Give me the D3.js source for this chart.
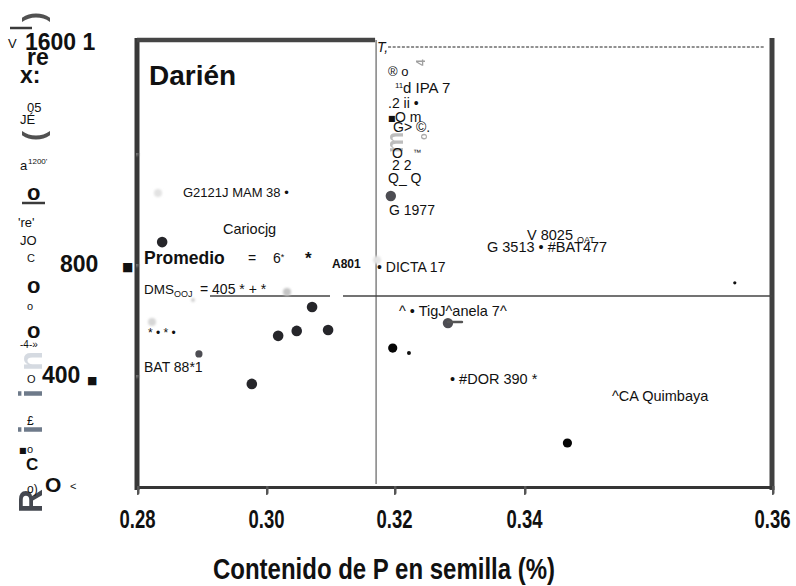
<!DOCTYPE html>
<html>
<head>
<meta charset="utf-8">
<script src="https://cdn.jsdelivr.net/npm/d3@7"></script>
<style>
  body { margin: 0; background: #fff; }
  svg { display: block; }
  text { font-family: "Liberation Sans", Arial, sans-serif; fill: #111; }
</style>
</head>
<body>
<svg id="chart" width="796" height="586"></svg>
<script>
// Seed phosphorus content (%) against grain yield, Darién site
const xTicks = [0.28, 0.30, 0.32, 0.34, 0.36];
const xTickLabels = ["0.28", "0.30", "0.32", "0.34", "0.36"];
const yTicks = [400, 800, 1200];
const meanP = 0.3172;      // mean seed P (vertical reference)
const meanYield = 685;     // mean yield (horizontal reference)

// genotypes: p = seed P (%), y = yield
const solidDots = [{ p: 0.3198, y: 497 }, { p: 0.3435, y: 155 }];
const darkDots = [
  { p: 0.2839, y: 879 }, { p: 0.3072, y: 645 }, { p: 0.3019, y: 541 },
  { p: 0.3048, y: 559 }, { p: 0.3097, y: 562 }, { p: 0.2978, y: 368 }
];
const greyDots = [{ p: 0.2896, y: 476 }, { p: 0.3195, y: 1045 }, { p: 0.3283, y: 587 }];
const smallDots = [{ p: 0.3223, y: 479 }, { p: 0.3570, y: 732 }];

const W = 796, H = 586;
const svg = d3.select("#chart");

// blur filters in user space so thin horizontal/vertical strokes keep their region
const defs = svg.append("defs");
[["soft", 0.6], ["haze", 1.2]].forEach(([id, sd]) => {
  defs.append("filter").attr("id", id)
    .attr("filterUnits", "userSpaceOnUse")
    .attr("x", 0).attr("y", 0).attr("width", W).attr("height", H)
    .append("feGaussianBlur").attr("stdDeviation", sd);
});

const x = d3.scaleLinear().domain(xTicks).range([137, 266, 394, 524, 772]);
const y = d3.scaleLinear().domain([0, 1600]).range([486, 42]);

const x0 = x(0.28), x1 = x(0.36), yB = y(0), yT = y(1600);

// ---- frame ----
const frame = svg.append("g").attr("filter", "url(#soft)");
frame.append("line").attr("x1", x0).attr("x2", x0).attr("y1", yT - 4).attr("y2", yB + 4)
  .attr("stroke", "#383838").attr("stroke-width", 5);
frame.append("line").attr("x1", x1).attr("x2", x1).attr("y1", yT - 4).attr("y2", yB + 4)
  .attr("stroke", "#404040").attr("stroke-width", 5);
frame.append("line").attr("x1", x0).attr("x2", x(meanP) - 1).attr("y1", yT - 2).attr("y2", yT - 2)
  .attr("stroke", "#454545").attr("stroke-width", 4.5);

// bottom axis
const xAxis = d3.axisBottom(x).tickValues(xTicks)
  .tickFormat((d, i) => xTickLabels[i]).tickSize(7).tickSizeOuter(0);
const gx = svg.append("g").attr("transform", `translate(0,${yB})`).call(xAxis);
gx.select(".domain").attr("stroke", "#363636").attr("stroke-width", 6)
  .attr("d", `M${x0 - 2},0H${x1 + 2}`).attr("filter", "url(#soft)");
gx.selectAll(".tick line").attr("stroke", "#555").attr("stroke-width", 4)
  .attr("stroke-linecap", "round").attr("filter", "url(#soft)");
gx.selectAll(".tick text")
  .attr("y", 42).attr("dy", 0)
  .attr("font-size", 25).attr("font-weight", 700).attr("fill", "#111")
  .attr("textLength", 36).attr("lengthAdjust", "spacingAndGlyphs")
  .style("font-family", "'Liberation Sans', Arial, sans-serif");

// left axis tick stubs
const yAxis = d3.axisLeft(y).tickValues(yTicks).tickSize(4).tickFormat("").tickSizeOuter(0);
const gy = svg.append("g").attr("transform", `translate(${x0 - 1},0)`).call(yAxis);
gy.select(".domain").remove();
gy.selectAll(".tick line").attr("stroke", "#777").attr("stroke-width", 5)
  .attr("stroke-linecap", "round").attr("filter", "url(#haze)");

// ---- reference lines ----
svg.append("line").attr("x1", x(meanP)).attr("x2", x(meanP)).attr("y1", yT - 2).attr("y2", yB - 2)
  .attr("stroke", "#555").attr("stroke-width", 1.1);
svg.append("line").attr("x1", x(meanP) + 12).attr("x2", x1 - 7)
  .attr("y1", yT + 5).attr("y2", yT + 5)
  .attr("stroke", "#222").attr("stroke-width", 1).attr("stroke-dasharray", "3,1.6");
const hy = y(meanYield);
[[210, 330], [343, x1]].forEach(([a, b]) => {
  svg.append("line").attr("x1", a).attr("x2", b).attr("y1", hy).attr("y2", hy)
    .attr("stroke", "#444").attr("stroke-width", 1.5);
});

// faint smudges of the print
const smudges = [[152, 322, 4, "#d6d6d6"], [158, 193, 4, "#e2e2e2"], [287, 292, 4, "#c4c4c4"],
  [193, 300, 2, "#cfcfcf"], [377, 260, 4, "#e4e4e4"]];
svg.append("g").attr("filter", "url(#haze)").selectAll("circle").data(smudges).join("circle")
  .attr("cx", d => d[0]).attr("cy", d => d[1]).attr("r", d => d[2]).attr("fill", d => d[3]);

// ---- points ----
const pts = svg.append("g").attr("filter", "url(#soft)");
pts.selectAll(".dark").data(darkDots).join("circle").attr("class", "dark")
  .attr("cx", d => x(d.p)).attr("cy", d => y(d.y)).attr("r", 5.3).attr("fill", "#26262c");
pts.selectAll(".grey").data(greyDots).join("circle").attr("class", "grey")
  .attr("cx", d => x(d.p)).attr("cy", d => y(d.y)).attr("r", (d, i) => i === 0 ? 3.6 : 5.2)
  .attr("fill", "#4e4e52");
pts.append("line").attr("x1", x(greyDots[2].p)).attr("x2", x(greyDots[2].p) + 14)
  .attr("y1", y(greyDots[2].y) - 1).attr("y2", y(greyDots[2].y) - 1)
  .attr("stroke", "#555").attr("stroke-width", 2.5).attr("stroke-linecap", "round");
svg.selectAll(".solid").data(solidDots).join("circle").attr("class", "solid")
  .attr("cx", d => x(d.p)).attr("cy", d => y(d.y)).attr("r", 4.6).attr("fill", "#050505");
svg.selectAll(".small").data(smallDots).join("circle").attr("class", "small")
  .attr("cx", d => x(d.p)).attr("cy", d => y(d.y)).attr("r", (d, i) => i === 0 ? 2 : 1.6)
  .attr("fill", "#111");

// ---- vertical title remnants (rotated) ----
const rot = [
  ["R", 42, 513, 33, "#3a3e46", 0.95],
  ["i", 42, 434, 33, "#4b5a6e", 0.8],
  ["i", 42, 398, 33, "#4b5a6e", 0.8],
  ["n", 42, 371, 33, "#8a98aa", 0.35],
  ["(", 44, 141, 30, "#333", 0.85],
  [")", 44, 22, 30, "#333", 0.85],
  ["4", 425, 66, 12, "#777", 0.7],
  ["m", 403, 153, 24, "#888", 0.55],
  ["o", 427, 140, 11, "#888", 0.7]
];
svg.append("g").selectAll("text").data(rot).join("text")
  .attr("transform", d => `translate(${d[1]},${d[2]}) rotate(-90)`)
  .attr("font-size", d => d[3]).attr("font-weight", 700)
  .style("fill", d => d[4]).attr("opacity", d => d[5])
  .text(d => d[0]);
svg.append("g").attr("filter", "url(#soft)").selectAll("line")
  .data([[10, 32, 28], [22, 45, 203]]).join("line")
  .attr("x1", d => d[0]).attr("x2", d => d[1]).attr("y1", d => d[2]).attr("y2", d => d[2])
  .attr("stroke", "#3a3a3a").attr("stroke-width", 2.5);

// ---- side labels along the yield axis ----
const side = [
  ["V", 8, 48, 13, 400], ["1600 1", 25, 50, 23, 700], ["re", 27, 65, 23, 700],
  ["x:", 20, 83, 23, 700], ["05", 27, 112, 13, 400], ["JÉ", 20, 124, 13, 400],
  ["a", 20, 170, 13, 400], ["1200'", 28, 164, 8, 400], ["o", 27, 200, 22, 700],
  ["'re'", 18, 227, 13, 400], ["JO", 20, 245, 13, 400], ["C", 27, 262, 11, 400],
  ["800", 60, 272, 23, 700], ["o", 27, 293, 22, 700], ["o", 27, 310, 11, 400],
  ["o", 27, 338, 22, 700], ["-4-»", 20, 348, 10, 400], ["O", 27, 383, 11, 400],
  ["400", 42, 383, 23, 700], ["£", 27, 425, 12, 400], ["o", 27, 453, 11, 400],
  ["C", 26, 470, 17, 700], ["o)", 27, 493, 12, 400], ["O", 45, 492, 21, 700],
  ["<", 70, 490, 11, 400]
];
svg.append("g").selectAll("text").data(side).join("text")
  .attr("x", d => d[1]).attr("y", d => d[2]).attr("font-size", d => d[3])
  .attr("font-weight", d => d[4]).text(d => d[0]);

const squares = [[122, 271, 12], [87, 384, 11], [19, 453, 8], [388, 121, 8]];
svg.append("g").selectAll("text").data(squares).join("text")
  .attr("x", d => d[0]).attr("y", d => d[1]).attr("font-size", d => d[2])
  .style("font-family", "'DejaVu Sans', sans-serif").text("■");

// ---- genotype labels and notes inside the plot ----
const notes = [
  ["Darién", 149, 85, 28, 700],
  ["G2121J MAM 38 •", 183, 197, 13, 400],
  ["Cariocjg", 223, 234, 14.5, 400],
  ["Promedio", 144, 264, 17.5, 700],
  ["=", 248, 263, 14, 400],
  ["*", 305, 264, 17, 700],
  ["A801", 332, 268, 12, 700],
  ["• DICTA 17", 377, 272, 14, 400],
  ["* • * •", 148, 337, 12, 400],
  ["BAT 88*1", 144, 372, 14, 400],
  ["^ • TigJ^anela 7^", 399, 316, 14.5, 400],
  ["• #DOR 390 *", 450, 384, 14.5, 400],
  ["^CA Quimbaya", 612, 401, 14.5, 400],
  ["V 8025", 527, 240, 14.5, 400],
  ["OAT...", 577, 243, 9, 400],
  ["G 3513 • #BAT477", 487, 252, 14.5, 400],
  ["® o", 388, 76, 13, 400],
  ["11", 395, 88, 8, 400],
  ["d IPA 7", 403, 93, 15, 400],
  [".2 ii •", 388, 108, 14, 400],
  ["O m", 395, 122, 14, 400],
  ["G> ©.", 393, 132, 14, 400],
  ["O", 392, 158, 14, 400],
  ["™", 413, 155, 8, 400],
  ["2 2", 392, 170, 14, 400],
  ["Q_ Q", 388, 183, 14, 400],
  ["G 1977", 389, 215, 14, 400]
];
svg.append("g").selectAll("text").data(notes).join("text")
  .attr("x", d => d[1]).attr("y", d => d[2]).attr("font-size", d => d[3])
  .attr("font-weight", d => d[4]).text(d => d[0]);

svg.append("text").attr("x", 377).attr("y", 52).attr("font-size", 14)
  .attr("font-style", "italic").text("T,");

const six = svg.append("text").attr("x", 273).attr("y", 263).attr("font-size", 14);
six.append("tspan").text("6");
six.append("tspan").attr("font-size", 9).attr("dy", -3).text("*");

const dms = svg.append("text").attr("x", 144).attr("y", 294).attr("font-size", 13.5);
dms.append("tspan").text("DMS");
dms.append("tspan").attr("font-size", 9).attr("dy", 3).text("OOJ");
dms.append("tspan").attr("dy", -3).attr("x", 200).attr("font-size", 14).text("= 405 * + *");

// ---- axis title ----
svg.append("text").attr("x", 384).attr("y", 579).attr("text-anchor", "middle")
  .attr("font-size", 29).attr("font-weight", 700)
  .attr("textLength", 342).attr("lengthAdjust", "spacingAndGlyphs")
  .text("Contenido de P en semilla (%)");
</script>
</body>
</html>
